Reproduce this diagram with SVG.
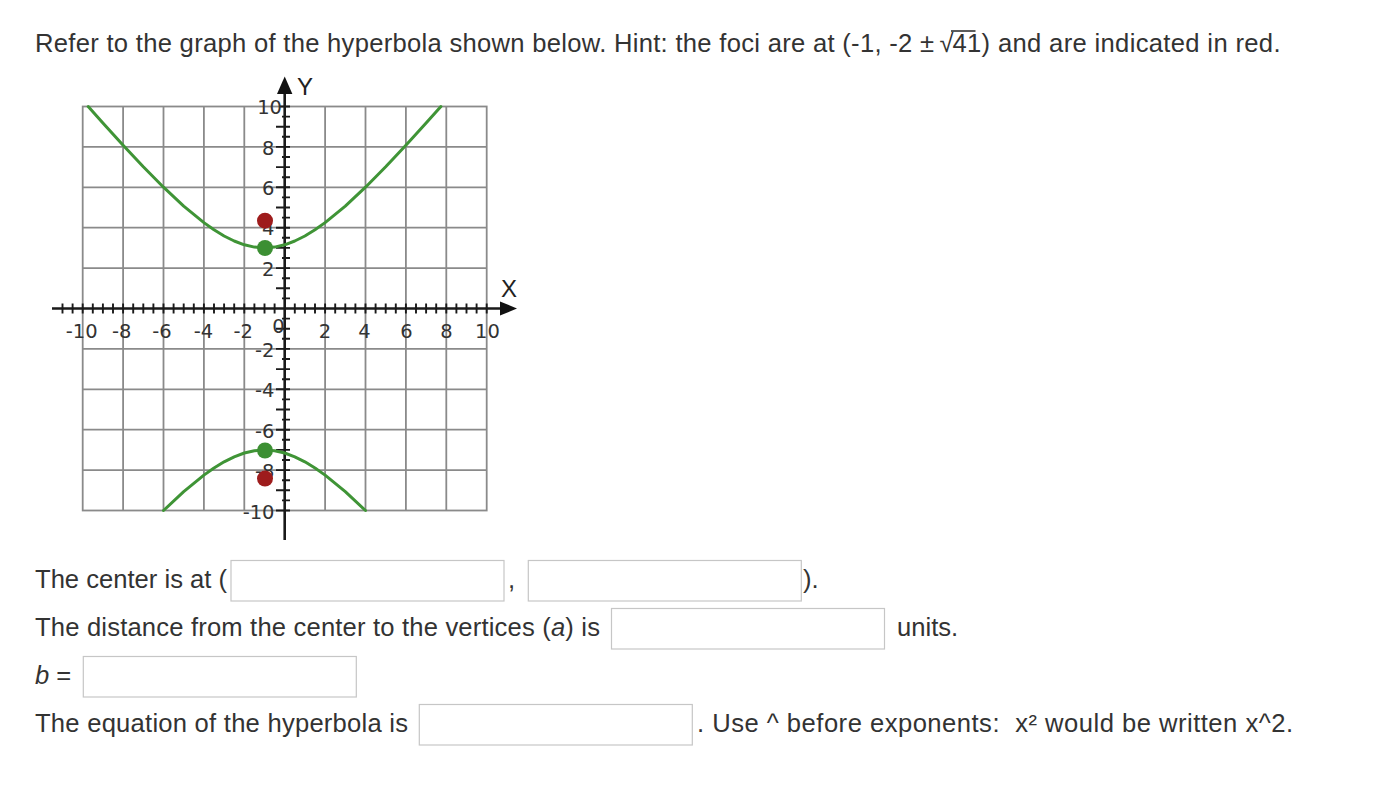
<svg xmlns="http://www.w3.org/2000/svg" width="1384" height="808" viewBox="0 0 1384 808">
<style>
.t{font-family:"Liberation Sans",Arial,Helvetica,sans-serif;font-size:25.6px;fill:#333;white-space:pre}
.lbl{font-family:"DejaVu Sans","Liberation Sans",Arial,sans-serif;font-size:19.5px;fill:#333}
.ax{font-family:"Liberation Sans",Arial,sans-serif;font-size:24px;fill:#222}
.grid{stroke:#8a8a8a;stroke-width:1.8;fill:none}
.axis{stroke:#1a1a1a;stroke-width:2.6;fill:none}
.tick{stroke:#1a1a1a;stroke-width:1.9}
.box{fill:#fff;stroke:#c6c6c6;stroke-width:1.2}
.curve{fill:none;stroke:#3f9436;stroke-width:3;stroke-linejoin:round;stroke-linecap:round}
</style>
<rect width="1384" height="808" fill="#fff"/>
<g id="title">
<text class="t" x="35" y="52" textLength="899" lengthAdjust="spacing">Refer to the graph of the hyperbola shown below. Hint: the foci are at (-1, -2 ±</text>
<text class="t" x="939.5" y="52">√</text>
<line x1="951" y1="31" x2="975.5" y2="31" stroke="#333" stroke-width="1.6"/>
<text class="t" x="952.5" y="52" textLength="328" lengthAdjust="spacing">41) and are indicated in red.</text>
</g>
<g id="graph">
<g id="grid" class="grid">
<rect x="82.7" y="106.5" width="404" height="404"/>
<path d="M123.1 106.5V510.5M163.5 106.5V510.5M203.9 106.5V510.5M244.3 106.5V510.5M325.1 106.5V510.5M365.5 106.5V510.5M405.9 106.5V510.5M446.3 106.5V510.5M82.7 146.9H486.7M82.7 187.3H486.7M82.7 227.7H486.7M82.7 268.1H486.7M82.7 348.9H486.7M82.7 389.3H486.7M82.7 429.7H486.7M82.7 470.1H486.7"/>
</g>
<g id="axes">
<path class="axis" d="M52 308.5H503M284.7 540V92"/>
<path d="M517 308.5L500 301.5L500 315.5Z" fill="#111"/>
<path d="M284.7 76.5L277 94L292.4 94Z" fill="#111"/>
<path class="tick" d="M62.5 303.5v10M72.6 303.5v10M82.7 303.5v10M92.8 303.5v10M102.9 303.5v10M113 303.5v10M123.1 303.5v10M133.2 303.5v10M143.3 303.5v10M153.4 303.5v10M163.5 303.5v10M173.6 303.5v10M183.7 303.5v10M193.8 303.5v10M203.9 303.5v10M214 303.5v10M224.1 303.5v10M234.2 303.5v10M244.3 303.5v10M254.4 303.5v10M264.5 303.5v10M274.6 303.5v10M294.8 303.5v10M304.9 303.5v10M315 303.5v10M325.1 303.5v10M335.2 303.5v10M345.3 303.5v10M355.4 303.5v10M365.5 303.5v10M375.6 303.5v10M385.7 303.5v10M395.8 303.5v10M405.9 303.5v10M416 303.5v10M426.1 303.5v10M436.2 303.5v10M446.3 303.5v10M456.4 303.5v10M466.5 303.5v10M476.6 303.5v10M486.7 303.5v10"/>
<path class="tick" d="M280 106.5h10M282 116.6h8M276 126.7h14M282 136.8h8M276 146.9h14M282 157h8M276 167.1h14M282 177.2h8M276 187.3h14M282 197.4h8M276 207.5h14M282 217.6h8M276 227.7h14M282 237.8h8M276 247.9h14M282 258h8M276 268.1h14M282 278.2h8M276 288.3h14M282 298.4h8M282 318.6h8M276 328.7h14M282 338.8h8M276 348.9h14M282 359h8M276 369.1h14M282 379.2h8M276 389.3h14M282 399.4h8M276 409.5h14M282 419.6h8M276 429.7h14M282 439.8h8M276 449.9h14M282 460h8M276 470.1h14M282 480.2h8M276 490.3h14M282 500.4h8M276 510.5h14"/>
</g>
<g id="axis-labels">
<g class="lbl" text-anchor="middle">
<text x="81.7" y="338">-10</text>
<text x="121.7" y="338">-8</text>
<text x="162" y="338">-6</text>
<text x="203.5" y="338">-4</text>
<text x="243.3" y="338">-2</text>
<text x="278.5" y="333">0</text>
<text x="325" y="338">2</text>
<text x="364.5" y="338">4</text>
<text x="406.5" y="338">6</text>
<text x="446.5" y="338">8</text>
<text x="487.5" y="338">10</text>
</g>
<g class="lbl" text-anchor="end">
<text x="282" y="114">10</text>
<text x="274.5" y="154.5">8</text>
<text x="274.5" y="194.5">6</text>
<text x="274.5" y="235">4</text>
<text x="274.5" y="275.5">2</text>
<text x="274.5" y="357">-2</text>
<text x="274.5" y="397">-4</text>
<text x="274.5" y="437.5">-6</text>
<text x="274.5" y="478">-8</text>
<text x="274.5" y="518.5">-10</text>
</g>
<text class="ax" x="297" y="95">Y</text>
<text class="ax" x="501" y="296.5">X</text>
</g>
<g id="hyperbola">
<polyline class="curve" points="88.2,106.5 102.9,123.1 123.1,145.3 143.3,166.8 163.5,187.2 183.7,206.1 203.9,222.65 214,229.8 224.1,236 234.2,241 244.3,244.8 254.4,247.1 264.5,247.9 274.6,247.1 284.7,244.8 294.8,241 304.9,236 315,229.8 325.1,222.65 345.3,206.1 365.5,187.2 385.7,166.8 405.9,145.3 426.1,123.1 440.9,106.5"/>
<polyline class="curve" points="163.5,510.5 183.7,491.7 203.9,475.15 214,468 224.1,461.8 234.2,456.8 244.3,453 254.4,450.7 264.5,449.9 274.6,450.7 284.7,453 294.8,456.8 304.9,461.8 315,468 325.1,475.15 345.3,491.7 365.5,510.5"/>
</g>
<g id="points">
<circle id="focus-upper" cx="265" cy="220.7" r="8" fill="#9e1c1c"/>
<circle id="vertex-upper" cx="265" cy="248" r="8" fill="#3c8f33"/>
<circle id="vertex-lower" cx="265" cy="450.5" r="8" fill="#3c8f33"/>
<circle id="focus-lower" cx="265" cy="478.6" r="8" fill="#9e1c1c"/>
</g>
</g>
<g id="form">
<g id="line-center">
<text class="t" x="35" y="588">The center is at (</text>
<rect class="box" x="231" y="560.5" width="273" height="40.5"/>
<text class="t" x="508" y="588">,</text>
<rect class="box" x="528.3" y="560.5" width="273" height="40.5"/>
<text class="t" x="803" y="588">).</text>
</g>
<g id="line-a">
<text class="t" x="35" y="636" textLength="565" lengthAdjust="spacing">The distance from the center to the vertices (<tspan font-style="italic">a</tspan>) is</text>
<rect class="box" x="611.5" y="608.5" width="273" height="40.5"/>
<text class="t" x="897" y="636">units.</text>
</g>
<g id="line-b">
<text class="t" x="35" y="684"><tspan font-style="italic">b</tspan> =</text>
<rect class="box" x="83.3" y="656.5" width="273" height="40.5"/>
</g>
<g id="line-eq">
<text class="t" x="35" y="732" textLength="373" lengthAdjust="spacing">The equation of the hyperbola is</text>
<rect class="box" x="419.3" y="704.5" width="273" height="40.5"/>
<text class="t" x="697" y="732" textLength="596" lengthAdjust="spacing">. Use ^ before exponents:  x² would be written x^2.</text>
</g>
</g>
</svg>
